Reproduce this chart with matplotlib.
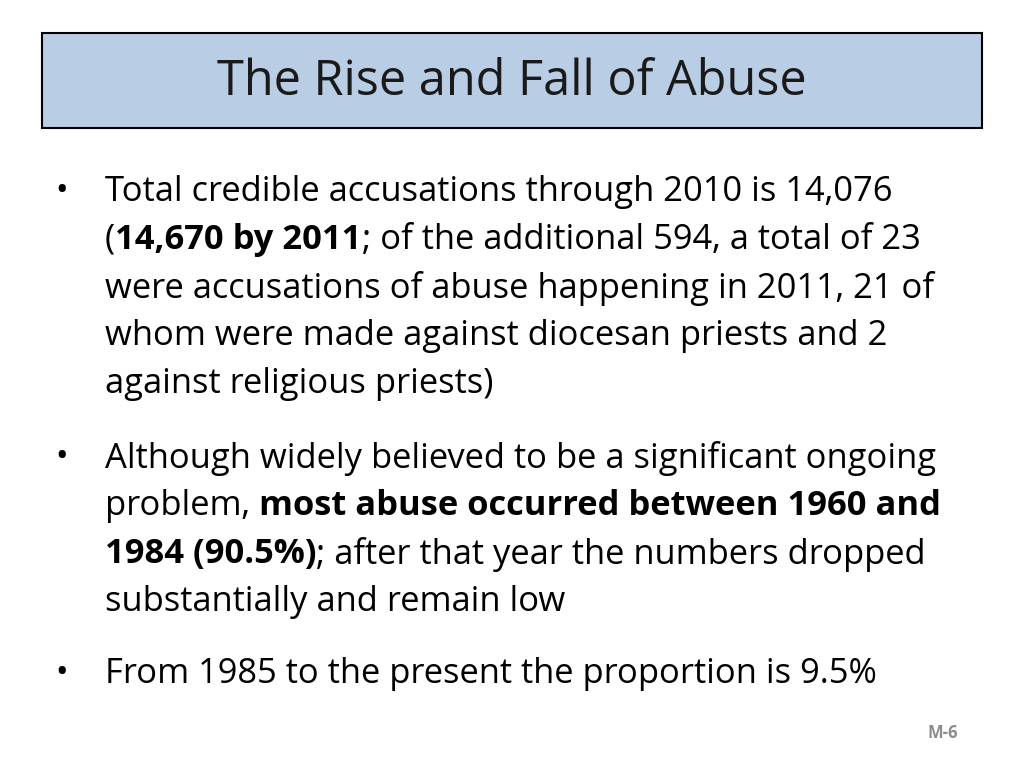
import matplotlib
matplotlib.use("Agg")
import matplotlib.pyplot as plt
from matplotlib.patches import Rectangle

title = "The Rise and Fall of Abuse"
# each line: list of (text, bold) segments; bullet flag
lines = [
    (True,  [("Total credible accusations through 2010 is 14,076", False)]),
    (False, [("(", False), ("14,670 by 2011", True), ("; of the additional 594, a total of 23", False)]),
    (False, [("were accusations of abuse happening in 2011, 21 of", False)]),
    (False, [("whom were made against diocesan priests and 2", False)]),
    (False, [("against religious priests)", False)]),
    (True,  [("Although widely believed to be a significant ongoing", False)]),
    (False, [("problem, ", False), ("most abuse occurred between 1960 and", True)]),
    (False, [("1984 (90.5%)", True), ("; after that year the numbers dropped", False)]),
    (False, [("substantially and remain low", False)]),
    (True,  [("From 1985 to the present the proportion is 9.5%", False)]),
]
line_y = [192, 240, 288, 336, 384, 458, 506, 554, 602, 674]
footer = "M-6"

FONT = "Open Sans"
fig = plt.figure(figsize=(10.24, 7.68), dpi=100)
ax = fig.add_axes([0, 0, 1, 1])
ax.set_xlim(0, 1024); ax.set_ylim(768, 0); ax.axis("off")

ax.add_patch(Rectangle((42, 33), 940, 95, facecolor="#b9cde5", edgecolor="black", lw=1.5))
ax.text(512, 82, title, ha="center", va="center", fontsize=35, family=FONT, color="#1a1a1a")

renderer = fig.canvas.get_renderer()
for (bullet, segs), y in zip(lines, line_y):
    if bullet:
        ax.text(55, y, "•", fontsize=24, family=FONT, va="center", ha="left")
    x = 105
    for txt, bold in segs:
        t = ax.text(x, y, txt, fontsize=24.8, family=FONT, va="center", ha="left",
                    fontweight="bold" if bold else "normal", color="black")
        bb = t.get_window_extent(renderer=renderer)
        x += bb.width
ax.text(943, 733, footer, fontsize=12, family=FONT, fontweight="bold", color="#8c8c8c",
        ha="center", va="center")
fig.savefig("out.png", dpi=100)
